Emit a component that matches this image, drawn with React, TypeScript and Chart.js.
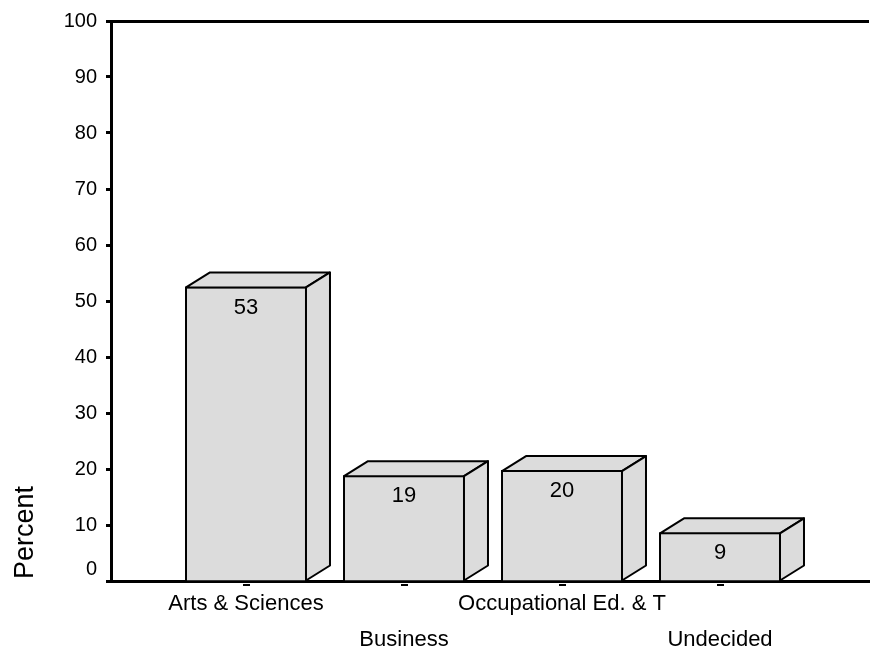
import React, { useEffect, useRef } from 'react';
import { Chart, registerables } from 'chart.js';

Chart.register(...registerables);

// ---- data ----
const categories = ['Arts & Sciences', 'Business', 'Occupational Ed. & T', 'Undecided'];
const percents = [52.6, 18.9, 19.8, 8.7];
const yTickValues = [0, 10, 20, 30, 40, 50, 60, 70, 80, 90, 100];
const yTitle = 'Percent';

// ---- style ----
const FONT = '"Liberation Sans", Arial, Helvetica, sans-serif';
const FILL = '#dcdcdc';
const DEPTH_X = 24;
const DEPTH_Y = 15;

export default function App() {
  const ref = useRef<HTMLCanvasElement>(null);

  useEffect(() => {
    const canvas = ref.current;
    if (!canvas) return;

    const bars3d = {
      id: 'bars3d',
      afterDatasetsDraw(chart: any) {
        const ctx = chart.ctx;
        const meta = chart.getDatasetMeta(0);
        ctx.save();
        ctx.lineWidth = 2;
        ctx.strokeStyle = '#000';
        ctx.fillStyle = FILL;
        ctx.lineJoin = 'round';
        meta.data.forEach((bar: any) => {
          const { x, y, base, width } = bar.getProps(['x', 'y', 'base', 'width'], true);
          const l = x - width / 2 + 1;
          const r = x + width / 2 - 1;
          const t = y + 1;
          const b = base;
          // top face
          ctx.beginPath();
          ctx.moveTo(l, t);
          ctx.lineTo(l + DEPTH_X, t - DEPTH_Y);
          ctx.lineTo(r + DEPTH_X, t - DEPTH_Y);
          ctx.lineTo(r, t);
          ctx.closePath();
          ctx.fill();
          ctx.stroke();
          // side face
          ctx.beginPath();
          ctx.moveTo(r, t);
          ctx.lineTo(r + DEPTH_X, t - DEPTH_Y);
          ctx.lineTo(r + DEPTH_X, b - DEPTH_Y);
          ctx.lineTo(r, b);
          ctx.closePath();
          ctx.fill();
          ctx.stroke();
        });
        // value labels
        ctx.fillStyle = '#000';
        ctx.font = `22px ${FONT}`;
        ctx.textAlign = 'center';
        ctx.textBaseline = 'middle';
        meta.data.forEach((bar: any, i: number) => {
          const { x, y } = bar.getProps(['x', 'y'], true);
          ctx.fillText(String(Math.round(percents[i])), x, y + 21);
        });
        ctx.restore();
      },
      afterDraw(chart: any) {
        const ctx = chart.ctx;
        const area = chart.chartArea;
        const xs = chart.scales.x;
        ctx.save();
        // top frame line
        ctx.strokeStyle = '#000';
        ctx.lineWidth = 3;
        ctx.beginPath();
        ctx.moveTo(area.left - 1, area.top + 0.5);
        ctx.lineTo(area.right, area.top + 0.5);
        ctx.stroke();
        // x tick dashes
        ctx.fillStyle = '#000';
        categories.forEach((_, i) => {
          const px = Math.round(xs.getPixelForValue(i + 1));
          ctx.fillRect(px - 3, area.bottom + 3, 7, 2);
        });
        // y title
        ctx.font = `27px ${FONT}`;
        ctx.textAlign = 'left';
        ctx.textBaseline = 'alphabetic';
        ctx.translate(33, area.bottom - 2);
        ctx.rotate(-Math.PI / 2);
        ctx.fillText(yTitle, 0, 0);
        ctx.restore();
      },
    };

    const chart = new Chart(canvas, {
      type: 'bar',
      data: {
        datasets: [
          {
            data: percents.map((v, i) => ({ x: i + 1, y: v })),
            backgroundColor: FILL,
            borderColor: '#000',
            borderWidth: 2,
            borderSkipped: 'start',
            categoryPercentage: 0.772,
            barPercentage: 1,
          },
        ],
      },
      options: {
        responsive: false,
        animation: false,
        events: [],
        layout: { padding: { left: 0, top: 16, right: 1, bottom: 0 } },
        plugins: { legend: { display: false }, tooltip: { enabled: false } },
        scales: {
          x: {
            type: 'linear',
            min: 0.1456,
            max: 4.943,
            offset: false,
            grid: { display: false, drawTicks: false, tickLength: 0, offset: false },
            border: { display: true, color: '#000', width: 3 },
            afterBuildTicks: (s: any) => {
              s.ticks = categories.map((_, i) => ({ value: i + 1 }));
            },
            afterFit: (s: any) => {
              s.height = 73;
            },
            ticks: {
              autoSkip: false,
              maxRotation: 0,
              minRotation: 0,
              padding: 5,
              color: '#000',
              font: { family: FONT, size: 22, lineHeight: 36 / 22 },
              callback: (value: any) => {
                const idx = Math.round(Number(value)) - 1;
                const label = categories[idx] ?? '';
                return idx % 2 === 0 ? label : ['', label];
              },
            },
          },
          y: {
            min: 0,
            max: 100,
            grid: {
              display: true,
              drawOnChartArea: false,
              drawTicks: true,
              tickLength: 5,
              tickWidth: 3,
              tickColor: '#000',
            },
            border: { display: true, color: '#000', width: 3 },
            afterBuildTicks: (s: any) => {
              s.ticks = yTickValues.map((v) => ({ value: v }));
            },
            afterFit: (s: any) => {
              s.width = 111;
            },
            ticks: {
              padding: 9,
              color: '#000',
              font: { family: FONT, size: 20 },
              callback: (value: any) => (Number(value) === 0 ? ['0', ''] : String(value)),
            },
          },
        },
      },
      plugins: [bars3d],
    } as any);

    return () => chart.destroy();
  }, []);

  return (
    <div style={{ position: 'fixed', left: 0, top: 0, width: 870, height: 654, background: '#fff' }}>
      <canvas ref={ref} width={870} height={654} style={{ width: 870, height: 654, display: 'block' }} />
    </div>
  );
}
